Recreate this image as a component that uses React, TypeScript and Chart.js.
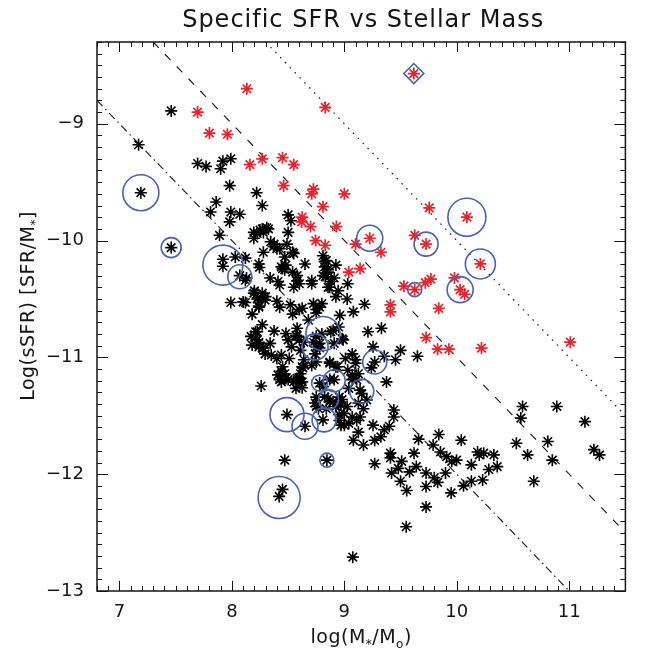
import { useEffect, useRef } from 'react';
import { Chart, registerables } from 'chart.js';

Chart.register(...registerables);

const X_MIN = 6.8;
const X_MAX = 11.5;
const Y_MIN = -13;
const Y_MAX = -8.3;

const titleText = 'Specific SFR vs Stellar Mass';

// black asterisks: [log M*, log sSFR]
const blackPoints: [number, number][] = [
  [7.46, -8.89], [7.17, -9.18], [7.19, -9.59], [7.695, -9.34], [7.77, -9.365], [7.9, -9.385],
  [7.92, -9.32], [7.99, -9.3], [7.98, -9.53], [8.22, -9.59], [8.27, -9.7], [7.86, -9.67],
  [7.81, -9.755], [7.99, -9.755], [8.07, -9.775], [7.98, -9.84], [7.89, -9.955], [7.46, -10.06],
  [8.5, -9.78], [8.525, -9.83], [8.195, -9.93], [8.25, -9.91], [8.31, -9.89], [8.195, -9.98],
  [8.345, -10.01], [8.375, -10.03], [8.4, -10.07], [8.5, -9.93], [8.49, -10.03], [8.55, -10.11],
  [8.28, -10.1], [7.92, -10.16], [7.92, -10.22], [8.03, -10.14], [8.12, -10.15], [8.07, -10.3],
  [8.13, -10.32], [8.24, -10.2], [8.245, -10.23], [8.34, -10.32], [8.41, -10.35], [8.425, -10.38],
  [8.45, -10.24], [8.47, -10.14], [8.65, -10.2], [8.71, -10.345], [8.58, -10.345], [8.55, -10.4],
  [8.81, -10.13], [8.825, -10.18], [8.855, -10.25], [8.925, -10.21], [8.91, -10.32], [8.83, -10.31],
  [8.855, -10.4], [8.945, -10.43], [9.03, -10.37], [9.025, -10.5], [8.2, -10.43], [8.23, -10.49],
  [8.3, -10.48], [7.99, -10.53], [8.12, -10.53], [8.24, -10.56], [8.4, -10.52], [8.52, -10.55],
  [8.6, -10.59], [8.75, -10.59], [8.8, -10.54], [8.96, -10.64], [8.18, -10.63], [8.54, -10.63],
  [8.27, -10.72], [8.225, -10.78], [8.17, -10.82], [8.24, -10.87], [8.18, -10.895], [8.27, -10.92],
  [8.375, -10.775], [8.48, -10.795], [8.5, -10.85], [8.575, -10.82], [8.58, -10.75], [8.64, -10.87],
  [8.68, -10.68], [8.75, -10.62], [9.08, -10.61], [8.9, -10.77], [8.75, -10.82], [8.78, -10.88],
  [8.725, -10.87], [8.91, -10.88], [8.99, -10.85], [8.61, -10.94], [8.35, -10.98], [8.4, -11.01],
  [8.51, -11.01], [8.44, -11.12], [8.425, -11.19], [8.48, -11.18], [8.58, -11.18], [8.605, -11.22],
  [8.625, -11.26], [8.63, -11.09], [8.71, -11.07], [8.75, -11.04], [8.87, -11.04], [9.01, -11.01],
  [9.07, -10.97], [9.1, -11.02], [8.26, -11.245], [8.78, -11.22], [8.91, -11.19], [8.81, -11.25],
  [8.75, -11.34], [8.855, -11.35], [8.87, -11.38], [8.75, -11.42], [8.84, -11.44], [8.97, -11.41],
  [8.955, -11.34], [9.04, -11.265], [9.07, -11.19], [9.14, -11.28], [8.955, -11.49], [8.97, -11.58],
  [8.81, -11.535], [8.49, -11.49], [8.65, -11.59], [9.08, -11.71], [9.125, -11.64], [8.47, -11.88],
  [8.845, -11.88], [8.45, -12.13], [8.42, -12.19], [9.075, -12.71],
  [9.18, -10.545], [9.21, -10.78], [9.33, -10.75], [9.255, -10.91], [9.5, -10.94], [9.65, -10.99],
  [9.455, -11.02], [9.355, -10.99], [9.27, -11.04], [9.24, -11.09], [8.925, -11.08], [9.07, -11.15],
  [9.11, -11.19], [9.375, -11.21], [9.125, -11.39], [8.98, -11.36], [9.44, -11.45], [9.44, -11.51],
  [9.255, -11.58], [9.0, -11.58], [9.17, -11.75], [9.27, -11.71], [9.325, -11.68], [9.355, -11.62],
  [9.4, -11.59], [9.27, -11.91], [9.41, -11.82], [9.41, -11.86], [9.42, -11.99], [9.51, -11.89],
  [9.48, -11.95], [9.58, -11.98], [9.64, -11.935], [9.62, -11.82], [9.66, -11.7], [9.5, -12.06],
  [9.555, -12.14], [9.727, -11.99], [9.727, -12.105], [9.8, -12.03], [9.83, -12.07], [9.9, -11.99],
  [9.79, -11.75], [9.84, -11.66], [9.855, -11.81], [9.91, -11.85], [9.955, -11.89], [9.998, -11.88],
  [10.04, -11.71], [9.95, -12.16], [10.06, -12.1], [10.13, -12.06], [10.13, -11.92], [10.185, -11.81],
  [10.2, -11.835], [10.24, -11.82], [10.33, -11.835], [10.23, -12.05], [10.285, -11.96], [10.36, -11.935],
  [9.727, -12.28], [9.55, -12.45], [10.585, -11.42], [10.57, -11.52], [10.53, -11.735], [10.63, -11.835],
  [10.685, -12.06], [10.81, -11.72], [10.85, -11.88], [10.89, -11.42], [11.14, -11.55], [11.22, -11.79],
  [11.27, -11.835], [8.925, -10.48],
  [8.225, -9.94], [8.27, -9.9], [8.325, -9.9], [8.28, -9.93], [8.37, -10.05], [8.425, -10.07],
  [8.54, -10.1], [8.12, -10.34], [8.44, -10.225], [8.48, -10.21], [8.47, -10.25], [8.54, -10.27],
  [8.58, -10.3], [8.6, -10.37], [8.71, -10.37], [8.84, -10.17], [8.825, -10.225], [8.855, -10.27],
  [8.81, -10.3], [8.88, -10.35], [8.87, -10.4], [8.1, -10.525], [8.195, -10.45], [8.225, -10.5],
  [8.27, -10.45], [8.295, -10.51], [8.24, -10.57], [8.425, -10.57], [8.625, -10.58], [8.725, -10.54],
  [8.78, -10.57], [8.21, -10.78], [8.225, -10.85], [8.24, -10.91], [8.28, -10.92], [8.295, -10.97],
  [8.34, -10.88], [8.57, -10.81], [8.6, -10.85], [8.53, -10.91], [8.44, -10.98], [8.75, -10.91],
  [8.78, -10.92], [8.74, -10.97], [8.88, -10.78], [8.95, -10.74], [8.98, -10.84], [8.87, -11.05],
  [8.94, -11.08], [9.1, -11.05], [9.03, -11.11], [9.125, -11.14], [8.64, -11.02], [8.625, -11.08],
  [8.61, -11.14], [8.625, -11.21], [8.6, -11.18], [8.45, -11.08], [8.47, -11.14], [8.5, -11.19],
  [8.55, -11.21], [8.57, -11.265], [8.41, -11.15], [8.44, -11.21], [8.87, -11.19], [8.825, -11.34],
  [8.9, -11.38], [8.925, -11.42], [8.74, -11.39], [8.77, -11.44], [9.025, -11.42], [9.0, -11.48],
  [9.07, -11.51], [8.955, -11.54], [9.04, -11.565], [9.11, -11.54], [9.14, -11.51], [9.17, -11.44],
  [9.2, -11.365], [9.155, -11.31], [8.8, -10.8],
];

// red asterisks
const redPoints: [number, number][] = [
  [8.133, -8.7], [7.695, -8.9], [8.83, -8.86], [7.8, -9.08], [7.96, -9.09], [8.16, -9.35],
  [8.27, -9.3], [8.45, -9.29], [8.55, -9.35], [8.46, -9.53], [8.725, -9.56], [8.71, -9.6],
  [9.0, -9.6], [8.81, -9.71], [8.625, -9.8], [8.62, -9.84], [8.7, -9.88], [8.93, -9.88],
  [8.745, -10.0], [8.83, -10.04], [9.1, -10.03], [9.04, -10.27], [9.14, -10.24], [9.618, -8.57],
  [9.755, -9.72], [10.09, -9.8], [9.226, -9.98], [9.626, -9.955], [9.727, -10.03], [9.326, -10.1],
  [10.21, -10.2], [9.98, -10.32], [9.77, -10.33], [9.72, -10.36], [9.53, -10.39], [9.626, -10.42],
  [10.03, -10.42], [10.07, -10.46], [9.41, -10.55], [9.41, -10.61], [9.84, -10.58], [9.727, -10.83],
  [9.83, -10.93], [9.93, -10.93], [10.22, -10.92], [11.01, -10.87],
];

// blue circles: centre and size
const circleCenters: [number, number][] = [
  [7.19, -9.59], [7.46, -10.06], [7.92, -10.21], [8.07, -10.31], [8.81, -10.795], [8.74, -10.91],
  [8.78, -11.22], [8.91, -11.2], [8.86, -11.36], [9.155, -11.29], [8.49, -11.49], [8.65, -11.59],
  [8.82, -11.535], [8.845, -11.88], [8.42, -12.2], [9.27, -11.04], [9.226, -9.98], [9.727, -10.03],
  [10.09, -9.8], [10.21, -10.2], [9.626, -10.42], [10.03, -10.42],
];
const circleSizes: number[] = [
  18, 10, 20, 12, 17, 13,
  8, 11, 10, 12, 17, 13,
  12, 7, 21, 12, 13, 12,
  19, 15, 7, 13,
];

const diamondPoint: [number, number] = [9.618, -8.57];

// reference lines (endpoints)
const dottedLine: [number, number][] = [[8.3, -8.3], [11.5, -11.5]];
const dashedLine: [number, number][] = [[7.3, -8.3], [11.5, -12.5]];
const dashDotLine: [number, number][] = [[6.8, -8.8], [11.0, -13.0]];

const FONT = '"DejaVu Sans", "Liberation Sans", sans-serif';
const INK = '#141414';

const toXY = (arr: [number, number][]) => arr.map(([x, y]) => ({ x, y }));

const decorPlugin = {
  id: 'decor',
  afterDraw(chart: any) {
    const { ctx, chartArea: a, scales } = chart;
    const xs = scales.x;
    const ys = scales.y;
    ctx.save();
    ctx.strokeStyle = INK;
    ctx.lineWidth = 1;
    const seg = (x1: number, y1: number, x2: number, y2: number) => {
      ctx.beginPath();
      ctx.moveTo(x1, y1);
      ctx.lineTo(x2, y2);
      ctx.stroke();
    };
    for (let i = Math.ceil(X_MIN * 10); i <= Math.floor(X_MAX * 10); i++) {
      const px = Math.round(xs.getPixelForValue(i / 10)) + 0.5;
      const len = i % 10 === 0 ? 10 : 5;
      seg(px, a.bottom, px, a.bottom - len);
      seg(px, a.top, px, a.top + len);
    }
    for (let i = Math.ceil(Y_MIN * 10); i <= Math.floor(Y_MAX * 10); i++) {
      const py = Math.round(ys.getPixelForValue(i / 10)) + 0.5;
      const len = i % 10 === 0 ? 11 : 5;
      seg(a.left, py, a.left + len, py);
      seg(a.right, py, a.right - len, py);
    }
    ctx.lineWidth = 1.5;
    ctx.strokeRect(a.left, a.top, a.right - a.left, a.bottom - a.top);

    ctx.fillStyle = INK;
    const cx = (a.left + a.right) / 2;
    const cy = (a.top + a.bottom) / 2;

    // title
    ctx.font = `24px ${FONT}`;
    (ctx as any).letterSpacing = '1px';
    ctx.textAlign = 'center';
    ctx.textBaseline = 'alphabetic';
    ctx.fillText(titleText, cx + 2, 27);

    // text with subscripts
    const drawParts = (parts: { t: string; sub?: boolean }[], x0: number, y0: number, size: number) => {
      const subSize = Math.round(size * 0.62);
      let w = 0;
      for (const p of parts) {
        ctx.font = `${p.sub ? subSize : size}px ${FONT}`;
        w += ctx.measureText(p.t).width;
      }
      let x = x0 - w / 2;
      ctx.textAlign = 'left';
      for (const p of parts) {
        ctx.font = `${p.sub ? subSize : size}px ${FONT}`;
        ctx.fillText(p.t, x, p.sub ? y0 + size * 0.28 : y0);
        x += ctx.measureText(p.t).width;
      }
    };

    (ctx as any).letterSpacing = '0.5px';
    drawParts(
      [{ t: 'log(M' }, { t: '*', sub: true }, { t: '/M' }, { t: 'o', sub: true }, { t: ')' }],
      cx, 643, 19,
    );

    ctx.save();
    ctx.translate(34, 306);
    ctx.rotate(-Math.PI / 2);
    drawParts([{ t: 'Log(sSFR) [SFR/M' }, { t: '*', sub: true }, { t: ']' }], 0, 0, 19);
    ctx.restore();

    ctx.restore();
  },
};

export default function App() {
  const ref = useRef<HTMLCanvasElement | null>(null);
  useEffect(() => {
    if (!ref.current) return;
    const chart = new Chart(ref.current, {
      type: 'scatter',
      data: {
        datasets: [
          {
            data: toXY(circleCenters),
            pointStyle: 'circle',
            pointRadius: circleSizes,
            backgroundColor: 'rgba(0,0,0,0)',
            borderColor: '#4763b0',
            borderWidth: 1.6,
          } as any,
          {
            data: toXY([diamondPoint]),
            pointStyle: 'rectRot',
            pointRadius: 10,
            backgroundColor: 'rgba(0,0,0,0)',
            borderColor: '#4763b0',
            borderWidth: 1.6,
          },
          {
            data: toXY(redPoints),
            pointStyle: 'star',
            pointRadius: 6,
            borderColor: '#e8232b',
            backgroundColor: '#e8232b',
            borderWidth: 1.7,
          },
          {
            data: toXY(blackPoints),
            pointStyle: 'star',
            pointRadius: 6,
            borderColor: '#000000',
            backgroundColor: '#000000',
            borderWidth: 1.6,
          },
          {
            type: 'line',
            data: toXY(dottedLine),
            borderColor: INK,
            borderWidth: 1.2,
            borderDash: [1.5, 5.5],
            pointRadius: 0,
            fill: false,
          } as any,
          {
            type: 'line',
            data: toXY(dashedLine),
            borderColor: INK,
            borderWidth: 1.1,
            borderDash: [8, 9],
            pointRadius: 0,
            fill: false,
          } as any,
          {
            type: 'line',
            data: toXY(dashDotLine),
            borderColor: INK,
            borderWidth: 1.1,
            borderDash: [8, 4, 1.5, 4],
            pointRadius: 0,
            fill: false,
          } as any,
        ],
      },
      options: {
        animation: false,
        responsive: false,
        devicePixelRatio: 1,
        events: [],
        layout: { padding: { top: 42, right: 4, left: 0, bottom: 0 } },
        plugins: {
          legend: { display: false },
          title: { display: false },
          tooltip: { enabled: false },
        },
        scales: {
          x: {
            type: 'linear',
            min: X_MIN,
            max: X_MAX,
            grid: { display: false, drawTicks: false },
            border: { display: false },
            ticks: {
              stepSize: 1,
              includeBounds: false,
              padding: 11,
              autoSkip: false,
              maxRotation: 0,
              color: INK,
              font: { family: FONT, size: 18 },
            },
            afterFit: (s: any) => {
              s.height = 63;
            },
          },
          y: {
            type: 'linear',
            min: Y_MIN,
            max: Y_MAX,
            grid: { display: false, drawTicks: false },
            border: { display: false },
            ticks: {
              stepSize: 1,
              includeBounds: false,
              padding: 13,
              autoSkip: false,
              color: INK,
              font: { family: FONT, size: 18 },
              callback: (v: any) => (Number(v) < 0 ? '\u2212' + Math.abs(Number(v)) : String(v)),
            },
            afterFit: (s: any) => {
              s.width = 97;
            },
          },
        },
      },
      plugins: [decorPlugin],
    });
    return () => chart.destroy();
  }, []);

  return (
    <div style={{ position: 'absolute', left: 0, top: 0, width: 648, height: 654, background: '#fff' }}>
      <canvas ref={ref} width={648} height={654} />
    </div>
  );
}
